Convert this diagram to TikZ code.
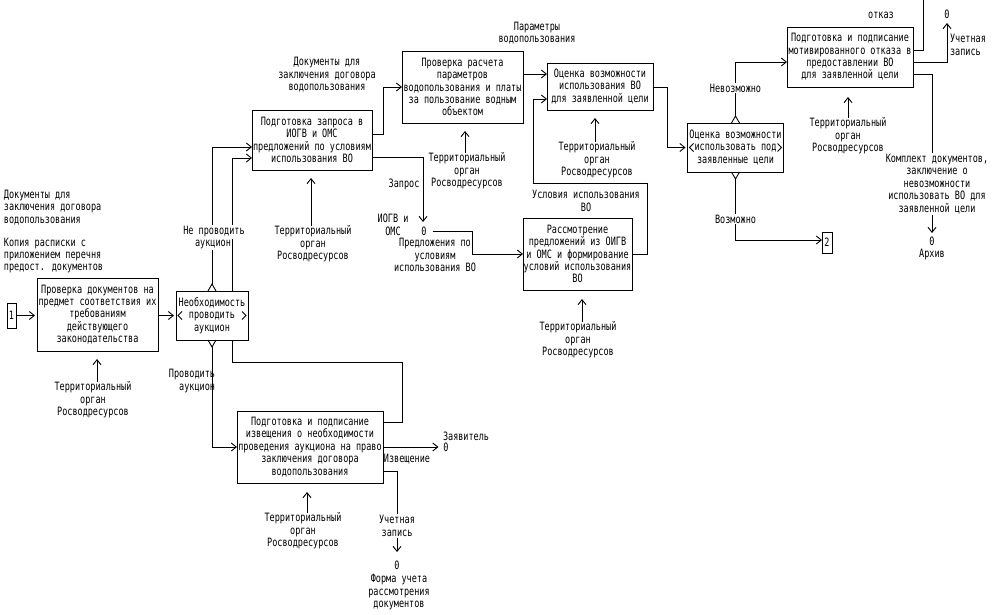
\documentclass[tikz,border=0pt]{standalone}
\usepackage{fontspec}
\newfontfamily\cadfont{DejaVu Sans Mono}[FakeStretch=0.74]
\usetikzlibrary{arrows.meta}
\begin{document}
\begin{tikzpicture}[x=1pt,y=-1pt,line width=0.9pt,
  every node/.style={font=\cadfont\fontsize{11.5}{12.4}\selectfont,inner sep=0pt,outer sep=0pt,align=center},
  box/.style={draw,fill=white},
  arr/.style={-{Straight Barb[length=5pt,width=8pt]}},
  wlbl/.style={fill=white,inner sep=1.2pt}]
\fill[white] (0,0) rectangle (993,615);
\useasboundingbox (0,0) rectangle (993,615);

% boxes
\node[box,minimum width=121pt,minimum height=73pt] (b1) at (97.5,314.5) {Проверка документов на\\предмет соответствия их\\требованиям\\действующего\\законодательства};
\node[box,minimum width=72pt,minimum height=49pt] (d1) at (212,315.5) {Необходимость\\проводить\\аукцион};
\node[box,minimum width=120pt,minimum height=60pt] (b2) at (312,140) {Подготовка запроса в\\ИОГВ и ОМС\\предложений по условиям\\использования ВО};
\node[box,minimum width=121pt,minimum height=72pt] (b3) at (462.5,87) {Проверка расчета\\параметров\\водопользования и платы\\за пользование водным\\объектом};
\node[box,minimum width=106pt,minimum height=47pt] (b4) at (600,86.5) {Оценка возможности\\использования ВО\\для заявленной цели};
\node[box,minimum width=109pt,minimum height=72pt] (b5) at (577.5,254) {Рассмотрение\\предложений из ОИГВ\\и ОМС и формирование\\условий использования\\ВО};
\node[box,minimum width=96pt,minimum height=49pt] (d2) at (735.5,147.5) {Оценка возможности\\использовать под\\заявленные цели};
\node[box,minimum width=126pt,minimum height=60pt] (b6) at (850,57) {Подготовка и подписание\\мотивированного отказа в\\предоставлении ВО\\для заявленной цели};
\node[box,minimum width=146pt,minimum height=72pt] (b7) at (310,447) {Подготовка и подписание\\извещения о необходимости\\проведения аукциона на право\\заключения договора\\водопользования};
\node[box,minimum width=9pt,minimum height=25pt] (n1) at (11.5,315.5) {1};
\node[box,minimum width=10pt,minimum height=21pt] (n2) at (827,242.5) {2};

% decision markers
\foreach \d in {d1,d2}{
  \draw (\d.north) ++(-4,0) -- ++(4,-7) -- ++(4,7);
  \draw (\d.south) ++(-4,0) -- ++(4,7) -- ++(4,-7);
  \draw (\d.west) ++(6,-4) -- ++(-4,4) -- ++(4,4);
  \draw (\d.east) ++(-6,-4) -- ++(4,4) -- ++(-4,4);
}

% small text nodes used as connector ends
\node (o1) at (424,231) {0};
\node (o2) at (947,14) {0};
\node (o3) at (932,241) {0};
\node (o4) at (446,447) {0};
\node (o5) at (397,565) {0};

% mechanism texts
\node (m1) at (93,400) {Территориальный\\орган\\Росводресурсов};
\node (m2) at (313,244) {Территориальный\\орган\\Росводресурсов};
\node (m3) at (467,171) {Территориальный\\орган\\Росводресурсов};
\node (m4) at (597,160) {Территориальный\\орган\\Росводресурсов};
\node (m5) at (578,340) {Территориальный\\орган\\Росводресурсов};
\node (m6) at (848,136) {Территориальный\\орган\\Росводресурсов};
\node (m7) at (303,531) {Территориальный\\орган\\Росводресурсов};

% mechanism arrows
\draw[arr] (m1.north -| 97,0) -- (97,359);
\draw[arr] (m2.north -| 311,0) -- (311,178);
\draw[arr] (m3.north -| 465,0) -- (465,131);
\draw[arr] (m4.north -| 595,0) -- (595,118);
\draw[arr] (m5.north -| 582,0) -- (582,299);
\draw[arr] (m6.north -| 848,0) -- (848,97);
\draw[arr] (m7.north -| 307,0) -- (307,492);

% connectors
\draw[arr] (n1.east) -- ([xshift=-2pt]b1.west |- n1.east);
\draw[arr] (b1.east |- d1.west) -- ([xshift=-2pt]d1.west);
\draw[arr] ([yshift=7pt]d1.north) -- (d1.north |- 0,147) -- (b2.west |- 0,147);
\draw (b7.east |- 0,422) -- (402,422) -- (402,362) -- (232,362) -- (232,0 |- d1.south);
\draw[arr] (232,0 |- d1.north) -- (232,158) -- (b2.west |- 0,158);
\draw[arr] ([yshift=-7pt]d1.south) -- (d1.south |- b7.west) -- (b7.west);
\draw[arr] (b2.east |- 0,134) -- (383,134) -- (383,87) -- (b3.west |- 0,87);
\draw[arr] (b2.east |- 0,157) -- (423,157) -- (423,222);
\draw[arr] ([xshift=6pt]o1.east) -- (472,231) -- (472,254) -- (b5.west);
\draw[arr] (b3.east |- 0,74) -- (b4.west |- 0,74);
\draw[arr] (b5.east) -- (647,254) -- (647,183) -- (533,183) -- (533,99) -- (b4.west |- 0,99);
\draw[arr] (b4.east |- 0,87) -- (667,87) -- (667,147.5) -- ([xshift=-2pt]d2.west);
\draw[arr] ([yshift=7pt]d2.north) -- (d2.north |- 0,62) -- (b6.west |- 0,62);
\draw[arr] ([yshift=-7pt]d2.south) -- (d2.south |- 0,240) -- (n2.west |- 0,240);
\draw (b6.east |- 0,50) -- (923,50) -- (923,0);
\draw[arr] (b6.east |- 0,62) -- (947,62) -- (947,23);
\draw[arr] (b6.east |- 0,74) -- (932,74) -- (932,233);
\draw[arr] (b7.east) -- ([xshift=-5pt]o4.west);
\draw[arr] (b7.east |- 0,471) -- (397,471) -- (397,552);

% labels
\node[anchor=west,align=left] (t1) at (4,207.5) {Документы для\\заключения договора\\водопользования};
\node[anchor=west,align=left] (t2) at (4,255.5) {Копия расписки с\\приложением перечня\\предост. документов};
\node[wlbl] (t3) at (214,232) {Не проводить};
\node[wlbl] (t4) at (213,244) {аукцион};
\node[anchor=east,align=right] (t5) at (215,381) {Проводить\\аукцион};
\node (t6) at (327,75) {Документы для\\заключения договора\\водопользования};
\node (t7) at (404,184) {Запрос};
\node (t8) at (393,225) {ИОГВ и\\ОМС};
\node (t9) at (435,255) {Предложения по\\условиям\\использования ВО};
\node (t10) at (537,33) {Параметры\\водопользования};
\node (t11) at (586,201) {Условия использования\\ВО};
\node[wlbl] (t12) at (735.5,88) {Невозможно};
\node[wlbl] (t13) at (735.5,219) {Возможно};
\node (t14) at (881,15) {отказ};
\node[anchor=west,align=left] (t15) at (950,45) {Учетная\\запись};
\node[wlbl] (t16) at (937,184) {Комплект документов,\\заключение о\\невозможности\\использовать ВО для\\заявленной цели};
\node (t17) at (932,255) {Архив};
\node[anchor=west] (t18) at (443,436) {Заявитель};
\node (t19) at (407,459) {Извещение};
\node[wlbl] (t20) at (397,526) {Учетная\\запись};
\node (t21) at (399,592) {Форма учета\\рассмотрения\\документов};
\end{tikzpicture}
\end{document}
